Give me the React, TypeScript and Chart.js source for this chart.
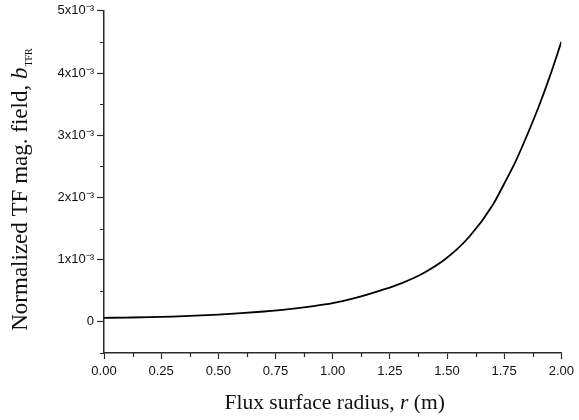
import React, { useEffect, useRef } from 'react';
import { Chart, registerables } from 'chart.js';

Chart.register(...registerables);

// Flux surface radius r (m)
const radius = [0, 0.1, 0.2, 0.3, 0.4, 0.5, 0.6, 0.7, 0.8, 0.9, 1.0, 1.1, 1.2, 1.3, 1.4, 1.5, 1.6, 1.7, 1.75, 1.8, 1.85, 1.9, 1.95, 2.0];
// Normalized TF magnetic field b_TFR
const bField = [
  0.065e-3, 0.07e-3, 0.076e-3, 0.085e-3, 0.1e-3, 0.118e-3, 0.14e-3, 0.167e-3, 0.2e-3, 0.245e-3,
  0.3e-3, 0.385e-3, 0.495e-3, 0.62e-3, 0.79e-3, 1.03e-3, 1.38e-3, 1.88e-3, 2.22e-3, 2.58e-3,
  3.0e-3, 3.45e-3, 3.95e-3, 4.5e-3,
];

const xMin = 0;
const xMax = 2;
const xStep = 0.125;
const xMajor = 0.25;
const yMin = -0.5e-3;
const yMax = 5e-3;
const yStep = 0.5e-3;
const yMajor = 1e-3;

const xTitleRuns = [
  { text: 'Flux surface radius, ', italic: false, sub: false },
  { text: 'r', italic: true, sub: false },
  { text: ' (m)', italic: false, sub: false },
];
const yTitleRuns = [
  { text: 'Normalized TF mag. field, ', italic: false, sub: false },
  { text: 'b', italic: true, sub: false },
  { text: 'TFR', italic: false, sub: true },
];

const SERIF = '"Liberation Serif", "Times New Roman", serif';
const SANS = '"Liberation Sans", Arial, sans-serif';
const AXIS_COLOR = '#2a2a2a';

const isMultiple = (v: number, m: number) => Math.abs(v / m - Math.round(v / m)) < 1e-6;

function drawRuns(ctx: CanvasRenderingContext2D, runs: any[], cx: number, baseline: number, size: number, subSize: number) {
  const fontFor = (r: any) => `${r.italic ? 'italic ' : ''}${r.sub ? subSize : size}px ${SERIF}`;
  let total = 0;
  const widths = runs.map((r) => {
    ctx.font = fontFor(r);
    const w = ctx.measureText(r.text).width;
    total += w;
    return w;
  });
  let x = cx - total / 2;
  ctx.textBaseline = 'alphabetic';
  ctx.textAlign = 'left';
  runs.forEach((r, i) => {
    ctx.font = fontFor(r);
    ctx.fillText(r.text, x + (r.sub ? 1 : 0), r.sub ? baseline + size * 0.2 : baseline);
    x += widths[i];
  });
}

const axisDecor = {
  id: 'axisDecor',
  afterDraw(chart: any) {
    const ctx = chart.ctx as CanvasRenderingContext2D;
    const area = chart.chartArea;
    const xs = chart.scales.x;
    const ys = chart.scales.y;
    ctx.save();
    // minor ticks
    ctx.strokeStyle = AXIS_COLOR;
    ctx.lineWidth = 1.2;
    ctx.beginPath();
    xs.ticks.forEach((t: any) => {
      if (!isMultiple(t.value, xMajor)) {
        const px = Math.round(xs.getPixelForValue(t.value)) + 0.5;
        ctx.moveTo(px, area.bottom);
        ctx.lineTo(px, area.bottom + 4);
      }
    });
    ys.ticks.forEach((t: any) => {
      if (!isMultiple(t.value, yMajor)) {
        const py = Math.round(ys.getPixelForValue(t.value)) + 0.5;
        ctx.moveTo(area.left, py);
        ctx.lineTo(area.left - 4, py);
      }
    });
    ctx.stroke();
    // titles
    ctx.fillStyle = '#111';
    drawRuns(ctx, xTitleRuns, (area.left + area.right) / 2 + 2, 409, 21.5, 12);
    ctx.translate(27, 190);
    ctx.rotate(-Math.PI / 2);
    drawRuns(ctx, yTitleRuns, 0, 0, 23, 10);
    ctx.restore();
  },
};

export default function App() {
  const canvasRef = useRef<HTMLCanvasElement | null>(null);

  useEffect(() => {
    if (!canvasRef.current) return;
    const chart = new Chart(canvasRef.current, {
      type: 'line',
      data: {
        datasets: [
          {
            data: radius.map((r, i) => ({ x: r, y: bField[i] })),
            borderColor: '#000',
            borderWidth: 1.8,
            pointRadius: 0,
            fill: false,
            cubicInterpolationMode: 'monotone',
          },
        ],
      },
      options: {
        animation: false,
        responsive: false,
        layout: { padding: { top: 10, right: 16, left: 0, bottom: 0 } },
        plugins: { legend: { display: false }, tooltip: { enabled: false }, title: { display: false } },
        scales: {
          x: {
            type: 'linear',
            min: xMin,
            max: xMax,
            afterFit: (s: any) => {
              s.height = 67;
            },
            afterBuildTicks: (s: any) => {
              const t = [];
              for (let k = 0; k <= Math.round((xMax - xMin) / xStep); k++) t.push({ value: xMin + k * xStep });
              s.ticks = t;
            },
            border: { display: true, color: AXIS_COLOR, width: 1.5 },
            grid: {
              drawOnChartArea: false,
              drawTicks: true,
              tickLength: 6,
              tickWidth: 1.2,
              tickColor: (c: any) => (c.tick && isMultiple(c.tick.value, xMajor) ? AXIS_COLOR : 'rgba(0,0,0,0)'),
            },
            ticks: {
              autoSkip: false,
              maxRotation: 0,
              padding: 5,
              color: '#111',
              font: { family: SANS, size: 13 },
              callback: (v: any) => (isMultiple(Number(v), xMajor) ? Number(v).toFixed(2) : ''),
            },
          },
          y: {
            type: 'linear',
            min: yMin,
            max: yMax,
            afterFit: (s: any) => {
              s.width = 104;
            },
            afterBuildTicks: (s: any) => {
              const t = [];
              for (let k = 0; k <= Math.round((yMax - yMin) / yStep); k++) t.push({ value: yMin + k * yStep });
              s.ticks = t;
            },
            border: { display: true, color: AXIS_COLOR, width: 1.5 },
            grid: {
              drawOnChartArea: false,
              drawTicks: true,
              tickLength: 7,
              tickWidth: 1.2,
              tickColor: (c: any) => (c.tick && isMultiple(c.tick.value, yMajor) ? AXIS_COLOR : 'rgba(0,0,0,0)'),
            },
            ticks: {
              autoSkip: false,
              padding: 3,
              color: '#111',
              font: { family: SANS, size: 13 },
              callback: (v: any) => {
                const n = Number(v);
                if (!isMultiple(n, yMajor)) return '';
                const k = Math.round(n / yMajor);
                return k === 0 ? '0' : `${k}x10\u207B\u00B3`;
              },
            },
          },
        },
      },
      plugins: [axisDecor],
    });
    return () => chart.destroy();
  }, []);

  return (
    <div style={{ position: 'absolute', left: 0, top: 0, width: 579, height: 420, background: '#fff' }}>
      <canvas ref={canvasRef} width={579} height={420} />
    </div>
  );
}
